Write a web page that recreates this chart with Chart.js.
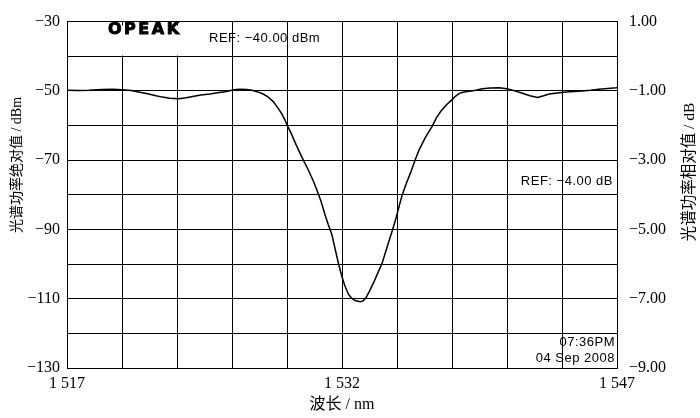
<!DOCTYPE html>
<html><head><meta charset="utf-8">
<script src="https://cdn.jsdelivr.net/npm/chart.js@4.4.0/dist/chart.umd.min.js"></script>
<style>html,body{margin:0;padding:0;background:#fff}#wrap{width:700px;height:418px}</style>
</head><body>
<div id="wrap"><canvas id="c"></canvas></div>
<script>
// wavelength (nm)
const wavelength = [1517.0,1517.6,1518.2,1518.9,1519.5,1520.0,1520.5,1520.9,1521.4,1521.85,1522.2,1522.6,1523.1,1523.5,1523.85,1524.3,1524.8,1525.3,1525.7,1526.1,1526.4,1526.8,1527.1,1527.41,1527.7,1527.96,1528.25,1528.5,1528.7,1528.87,1529.0,1529.24,1529.5,1529.79,1530.15,1530.4,1530.61,1530.85,1531.07,1531.25,1531.44,1531.62,1531.8,1531.99,1532.15,1532.35,1532.55,1532.75,1533.0,1533.15,1533.3,1533.5,1533.73,1533.95,1534.19,1534.45,1534.74,1534.95,1535.1,1535.28,1535.5,1535.74,1536.0,1536.2,1536.55,1536.93,1537.15,1537.39,1537.7,1537.99,1538.2,1538.4,1538.65,1538.95,1539.3,1539.65,1540.1,1540.57,1540.9,1541.1,1541.5,1541.84,1542.25,1542.66,1543.0,1543.3,1543.75,1544.2,1544.65,1545.1,1545.55,1546.0,1546.5,1546.95,1547.0];
// absolute spectral power (dBm)
const power = [-49.8,-49.9,-49.8,-49.6,-49.5,-49.7,-49.9,-50.3,-50.8,-51.4,-51.8,-52.1,-52.3,-52.0,-51.6,-51.2,-50.9,-50.5,-50.2,-49.7,-49.5,-49.6,-49.8,-50.3,-50.9,-51.7,-53.1,-54.9,-56.5,-58.2,-59.8,-62.4,-65.6,-68.9,-72.7,-75.6,-78.3,-81.8,-85.7,-88.6,-91.3,-95.5,-99.7,-103.5,-106.2,-108.7,-110.0,-110.6,-110.9,-110.6,-109.8,-107.8,-105.3,-102.6,-99.7,-95.3,-90.4,-86.7,-83.6,-80.1,-76.8,-73.6,-69.8,-67.1,-63.4,-60.1,-57.8,-55.9,-54.0,-52.6,-51.5,-50.7,-50.3,-50.1,-49.8,-49.4,-49.2,-49.1,-49.3,-49.5,-50.1,-50.7,-51.4,-51.9,-51.4,-50.9,-50.6,-50.3,-50.2,-50.0,-49.8,-49.5,-49.3,-49.1,-49.0];

const xLabelValues = [1517, 1532, 1547];
const xTickLabels = ['1 517', '1 532', '1 547'];
const leftLabelValues = [-30, -50, -70, -90, -110, -130];
const rightLabelValues = [1, -1, -3, -5, -7, -9];

const titles = {
  x: '波长 / nm',
  yLeft: '光谱功率绝对值 / dBm',
  yRight: '光谱功率相对值 / dB'
};
const annotations = {
  logo: 'OPEAK',
  refAbs: 'REF: \u221240.00 dBm',
  refRel: 'REF: \u22124.00 dB',
  time: '07:36PM',
  date: '04 Sep 2008'
};

const points = wavelength.map((w, i) => ({x: w, y: power[i]}));
const fmtMinus = s => s.replace('-', '\u2212');
const tickFont = {family: "'Liberation Serif', 'Times New Roman', serif", size: 16};

const overlay = {
  id: 'overlay',
  beforeDatasetsDraw(chart) {
    const ctx = chart.ctx, a = chart.chartArea;
    ctx.save();
    ctx.fillStyle = '#fff';
    ctx.fillRect(a.left + 1, a.top + 4, 137, 30);
    ctx.restore();
  },
  afterDraw(chart) {
    const ctx = chart.ctx, a = chart.chartArea;
    ctx.save();
    ctx.fillStyle = '#000';
    ctx.strokeStyle = '#000';
    // logo
    ctx.font = "bold 16px 'DejaVu Sans', sans-serif";
    ctx.textBaseline = 'middle';
    ctx.textAlign = 'left';
    try { ctx.letterSpacing = '2.5px'; } catch (e) {}
    ctx.lineWidth = 0.9;
    ctx.fillText(annotations.logo, 108, 30);
    ctx.strokeText(annotations.logo, 108, 30);
    try { ctx.letterSpacing = '0.5px'; } catch (e) {}
    ctx.font = "13px 'Liberation Sans', Arial, sans-serif";
    ctx.fillText(annotations.refAbs, 209, 38);
    ctx.textAlign = 'right';
    ctx.fillText(annotations.refRel, 613, 181);
    ctx.fillText(annotations.time, 615, 342);
    ctx.fillText(annotations.date, 615, 358);
    try { ctx.letterSpacing = '0px'; } catch (e) {}
    // axis titles
    ctx.textAlign = 'center';
    ctx.font = "16px 'Liberation Serif', 'Noto Sans CJK SC', serif";
    ctx.fillText(titles.x, (a.left + a.right) / 2, 405);
    ctx.save();
    ctx.translate(17, 165);
    ctx.rotate(-Math.PI / 2);
    ctx.font = "14px 'Liberation Serif', 'Noto Sans CJK SC', serif";
    ctx.fillText(titles.yLeft, 0, 0);
    ctx.restore();
    ctx.save();
    ctx.translate(690, 172);
    ctx.rotate(-Math.PI / 2);
    ctx.font = "15.5px 'Liberation Serif', 'Noto Sans CJK SC', serif";
    ctx.fillText(titles.yRight, 0, 0);
    ctx.restore();
    ctx.restore();
  }
};

new Chart(document.getElementById('c'), {
  type: 'line',
  data: {
    datasets: [{
      data: points,
      borderColor: '#000',
      borderWidth: 1.5,
      pointRadius: 0,
      tension: 0,
      fill: false,
      yAxisID: 'y'
    }]
  },
  options: {
    responsive: true,
    maintainAspectRatio: false,
    animation: false,
    layout: {padding: {top: 0, left: 0, right: 0, bottom: 0}},
    plugins: {legend: {display: false}, tooltip: {enabled: false}},
    scales: {
      x: {
        type: 'linear', min: 1517, max: 1547,
        ticks: {
          stepSize: 3, autoSkip: false, maxRotation: 0, color: '#000', font: tickFont, padding: 6,
          callback: v => {
            const i = xLabelValues.indexOf(Math.round(v));
            return i >= 0 ? xTickLabels[i] : '';
          }
        },
        grid: {color: '#000', lineWidth: 1, drawTicks: false},
        border: {color: '#000', width: 1},
        afterFit: s => { s.height = 50; }
      },
      y: {
        type: 'linear', position: 'left', min: -130, max: -30,
        ticks: {
          stepSize: 10, autoSkip: false, color: '#000', font: tickFont, padding: 7,
          callback: v => leftLabelValues.includes(Math.round(v)) ? fmtMinus(String(Math.round(v))) : ''
        },
        grid: {color: '#000', lineWidth: 1, drawTicks: false},
        border: {color: '#000', width: 1},
        afterFit: s => { s.width = 67; }
      },
      y2: {
        type: 'linear', position: 'right', min: -9, max: 1,
        ticks: {
          stepSize: 1, autoSkip: false, color: '#000', font: tickFont, padding: 12,
          callback: v => rightLabelValues.includes(Math.round(v)) ? fmtMinus(Number(v).toFixed(2)) : ''
        },
        grid: {drawOnChartArea: false, drawTicks: false},
        border: {color: '#000', width: 1},
        afterFit: s => { s.width = 83; }
      }
    }
  },
  plugins: [overlay]
});
</script>
</body></html>
